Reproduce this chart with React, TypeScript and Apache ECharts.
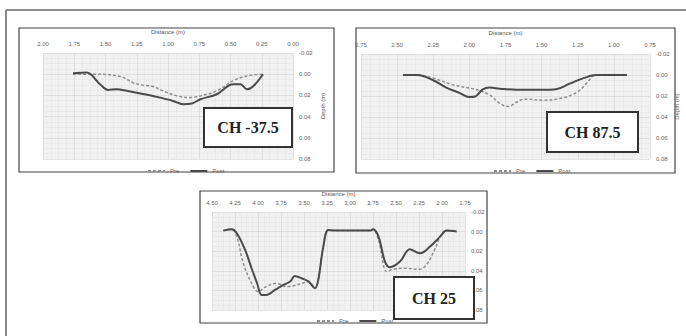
import { useEffect, useRef } from "react";
import * as echarts from "echarts";

// Chart 1: CH -37.5  [distance (m), depth (m)]
const ch1Pre = [
  [1.76, 0], [1.6, 0], [1.46, 0.0006], [1.36, 0.003], [1.28, 0.008], [1.2, 0.0104],
  [1.12, 0.0116], [1.04, 0.0157], [0.93, 0.0204], [0.82, 0.022], [0.74, 0.0205],
  [0.61, 0.0157], [0.48, 0.0063], [0.37, 0.0016], [0.24, 0],
];
const ch1Post = [
  [1.76, -0.001], [1.65, -0.0015], [1.544, 0.0094], [1.48, 0.0148], [1.41, 0.0142],
  [1.33, 0.0157], [1.22, 0.0182], [1.09, 0.0214], [0.96, 0.0252], [0.88, 0.0283],
  [0.81, 0.0277], [0.74, 0.0236], [0.61, 0.0189], [0.48, 0.0094], [0.42, 0.0094],
  [0.37, 0.0142], [0.32, 0.0116], [0.24, 0],
];

// Chart 2: CH 87.5
const ch2Pre = [
  [2.46, 0], [2.36, 0], [2.25, 0.003], [2.11, 0.0095], [1.95, 0.014], [1.86, 0.019],
  [1.79, 0.027], [1.73, 0.03], [1.675, 0.026], [1.62, 0.023], [1.49, 0.024], [1.4, 0.023],
  [1.31, 0.02], [1.24, 0.015], [1.18, 0.0065], [1.13, 0], [0.91, 0],
];
const ch2Post = [
  [2.46, 0], [2.36, 0], [2.25, 0.005], [2.16, 0.012], [2.07, 0.017], [2.0, 0.021],
  [1.96, 0.0205], [1.91, 0.014], [1.86, 0.012], [1.79, 0.013], [1.675, 0.014],
  [1.49, 0.014], [1.4, 0.0135], [1.31, 0.0085], [1.21, 0.003], [1.12, 0], [0.91, 0],
];

// Chart 3: CH 25
const ch3Pre = [
  [4.377, -0.001], [4.286, -0.0024], [4.23, 0.0051], [4.16, 0.0323], [4.07, 0.0527],
  [4.0, 0.0612], [3.91, 0.0561], [3.8, 0.0527], [3.69, 0.0561], [3.54, 0.0534],
  [3.45, 0.051], [3.38, 0.0578], [3.345, 0.0493], [3.29, 0.0153], [3.236, -0.0017],
  [3.16, -0.001], [2.78, -0.001], [2.75, -0.0024], [2.69, 0.0085], [2.6, 0.0408],
  [2.53, 0.0384], [2.42, 0.0374], [2.24, 0.0384], [2.17, 0.034], [2.09, 0.0204],
  [2.0, 0.0017], [1.95, -0.001], [1.84, 0],
];
const ch3Post = [
  [4.377, -0.001], [4.286, -0.0024], [4.23, 0.0017], [4.14, 0.0187], [4.07, 0.0374],
  [4.01, 0.0527], [3.96, 0.0646], [3.91, 0.0646], [3.815, 0.0595], [3.725, 0.0544],
  [3.65, 0.051], [3.6, 0.0452], [3.525, 0.0476], [3.45, 0.051], [3.38, 0.0578],
  [3.345, 0.0493], [3.29, 0.0153], [3.236, -0.0017], [3.16, -0.001], [2.78, -0.001],
  [2.75, -0.0024], [2.69, 0.0051], [2.62, 0.0306], [2.565, 0.0364], [2.457, 0.0306],
  [2.35, 0.018], [2.24, 0.0221], [2.13, 0.0153], [2.02, 0.0051], [1.95, -0.001], [1.84, 0],
];

const seriesNames = ["Pre", "Post"];
const panelLabels = ["CH -37.5", "CH 87.5", "CH 25"];
const distanceRanges = [
  [0, 2],
  [0.75, 2.75],
  [1.75, 4.5],
];
const depthRange = [-0.02, 0.08];
const distanceStep = 0.25;
const depthStep = 0.02;

const FONT = "'Liberation Sans', Arial, sans-serif";

export default function App() {
  const ref = useRef<HTMLDivElement>(null);

  useEffect(() => {
    if (!ref.current) return;
    const chart = echarts.init(ref.current, null, { renderer: "svg" });

    const grids = [
      { left: 43, top: 53, width: 250, height: 106 },
      { left: 361, top: 54, width: 289, height: 105 },
      { left: 212, top: 212, width: 253, height: 98 },
    ];
    const xNameGaps = [18, 18, 15];
    const yNameGaps = [27, 20, 0];

    const xAxis = grids.map((_, i) => ({
      type: "value",
      gridIndex: i,
      position: "top",
      inverse: true,
      min: distanceRanges[i][0],
      max: distanceRanges[i][1],
      interval: distanceStep,
      axisLine: { show: false },
      axisTick: { show: false },
      axisLabel: {
        fontSize: 6,
        color: "#666",
        margin: 6,
        fontFamily: FONT,
        formatter: (v: number) => v.toFixed(2),
      },
      splitLine: { show: true, lineStyle: { color: "#d4d4d4", width: 0.6 } },
      minorTick: { show: false, splitNumber: 4 },
      minorSplitLine: { show: true, lineStyle: { color: "#e3e3e3", width: 0.5 } },
      name: "Distance (m)",
      nameLocation: "middle",
      nameGap: xNameGaps[i],
      nameTextStyle: { fontSize: 6, color: "#555", fontFamily: FONT },
    }));

    const yAxis = grids.map((_, i) => ({
      type: "value",
      gridIndex: i,
      position: "right",
      inverse: true,
      min: depthRange[0],
      max: depthRange[1],
      interval: depthStep,
      axisLine: { show: false },
      axisTick: { show: false },
      axisLabel: {
        fontSize: 6,
        color: "#666",
        margin: 6,
        fontFamily: FONT,
        formatter: (v: number) => v.toFixed(2),
      },
      splitLine: { show: true, lineStyle: { color: "#d4d4d4", width: 0.6 } },
      minorTick: { show: false, splitNumber: 4 },
      minorSplitLine: { show: true, lineStyle: { color: "#e3e3e3", width: 0.5 } },
      name: i < 2 ? "Depth (m)" : "",
      nameLocation: "middle",
      nameRotate: 90,
      nameGap: yNameGaps[i],
      nameTextStyle: { fontSize: 6, color: "#555", fontFamily: FONT },
    }));

    const data = [
      [ch1Pre, ch1Post],
      [ch2Pre, ch2Post],
      [ch3Pre, ch3Post],
    ];
    const series: any[] = [];
    data.forEach((pair, i) => {
      pair.forEach((d, j) => {
        series.push({
          type: "line",
          name: seriesNames[j],
          xAxisIndex: i,
          yAxisIndex: i,
          data: d,
          symbol: "none",
          smooth: 0.35,
          lineStyle:
            j === 0
              ? { color: "#8f8f8f", width: 1.5, type: [3, 2] }
              : { color: "#4a4a4a", width: 2 },
          itemStyle: { color: j === 0 ? "#8f8f8f" : "#4a4a4a" },
        });
      });
    });

    const legendPos = [
      { left: 142, top: 163 },
      { left: 488, top: 163 },
      { left: 311, top: 313 },
    ];
    const legend = legendPos.map((p) => ({
      data: seriesNames,
      left: p.left,
      top: p.top,
      itemWidth: 17,
      itemHeight: 6,
      itemGap: 10,
      selectedMode: false,
      itemStyle: { opacity: 0 },
      textStyle: { fontSize: 6, color: "#666", fontFamily: FONT },
    }));

    const labelBoxes = [
      { x: 204, y: 108, w: 88, h: 39 },
      { x: 547, y: 112, w: 91, h: 40 },
      { x: 394, y: 277, w: 80, h: 42 },
    ];

    const graphic: any[] = [
      { type: "line", shape: { x1: 6, y1: 10, x2: 686, y2: 10 }, style: { stroke: "#8a8a8a", lineWidth: 2 } },
      { type: "line", shape: { x1: 6, y1: 10, x2: 6, y2: 336 }, style: { stroke: "#8a8a8a", lineWidth: 2 } },
      { type: "rect", shape: { x: 19, y: 28, width: 315, height: 144 }, style: { fill: "none", stroke: "#444", lineWidth: 1.2 } },
      { type: "rect", shape: { x: 356, y: 28, width: 319, height: 145 }, style: { fill: "none", stroke: "#444", lineWidth: 1.2 } },
      { type: "rect", shape: { x: 200, y: 191, width: 287, height: 132 }, style: { fill: "none", stroke: "#444", lineWidth: 1.2 } },
    ];
    labelBoxes.forEach((b, i) => {
      graphic.push({
        type: "rect",
        z: 100,
        shape: { x: b.x, y: b.y, width: b.w, height: b.h },
        style: { fill: "#fff", stroke: "#333", lineWidth: 2 },
      });
      graphic.push({
        type: "text",
        z: 101,
        x: b.x + b.w / 2,
        y: b.y + b.h / 2,
        style: {
          text: panelLabels[i],
          font: "bold 16px 'Liberation Serif', 'Times New Roman', serif",
          fill: "#222",
          align: "center",
          verticalAlign: "middle",
          textAlign: "center",
          textVerticalAlign: "middle",
        },
      });
    });

    chart.setOption({
      animation: false,
      backgroundColor: "#fff",
      grid: grids.map((g) => ({
        ...g,
        show: true,
        backgroundColor: "#f1f1f1",
        borderWidth: 0,
        containLabel: false,
      })),
      xAxis,
      yAxis,
      legend,
      series,
      graphic,
    });

    return () => chart.dispose();
  }, []);

  return (
    <div
      ref={ref}
      style={{ position: "absolute", left: 0, top: 0, width: 686, height: 336 }}
    />
  );
}
